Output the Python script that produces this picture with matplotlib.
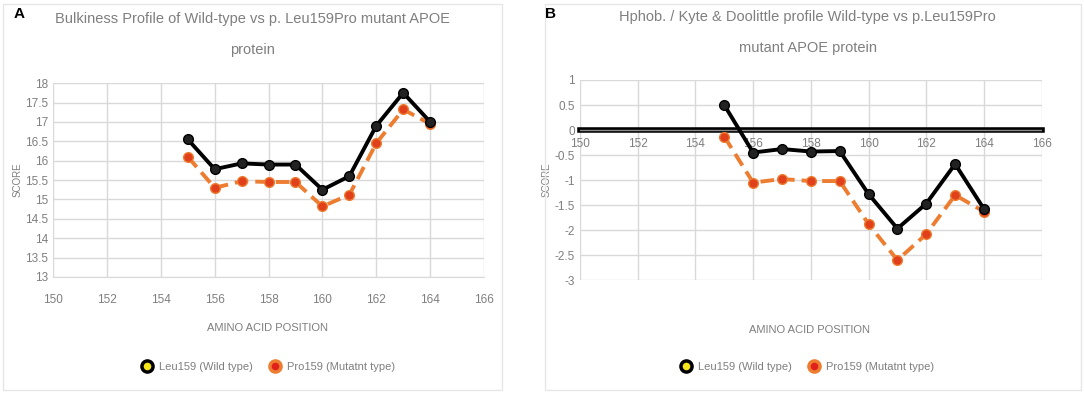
import matplotlib.pyplot as plt
from matplotlib.lines import Line2D
from matplotlib.patches import Rectangle

# amino acid positions
positions = [155, 156, 157, 158, 159, 160, 161, 162, 163, 164]

# A: bulkiness
bulk_wild = [16.55, 15.78, 15.93, 15.9, 15.9, 15.25, 15.6, 16.9, 17.75, 17.0]
bulk_mut = [16.1, 15.3, 15.47, 15.45, 15.45, 14.82, 15.12, 16.45, 17.32, 16.95]

# B: Kyte & Doolittle hydrophobicity
hyd_wild = [0.5, -0.45, -0.38, -0.43, -0.42, -1.28, -1.97, -1.47, -0.68, -1.58]
hyd_mut = [-0.13, -1.05, -0.98, -1.02, -1.02, -1.88, -2.6, -2.08, -1.3, -1.63]

x_ticks = [150, 152, 154, 156, 158, 160, 162, 164, 166]
legend_labels = ["Leu159 (Wild type)", "Pro159 (Mutatnt type)"]

GRAY = "#7f7f7f"
GRID = "#d9d9d9"
ORANGE = "#ED7D31"
plt.rcParams['font.family'] = ['Liberation Sans', 'DejaVu Sans']

fig = plt.figure(figsize=(10.84, 3.94), dpi=100)

# panel frames
for x0, w in [(0.003, 0.46), (0.503, 0.494)]:
    fig.patches.append(Rectangle((x0, 0.01), w, 0.98, transform=fig.transFigure,
                                 fill=False, edgecolor="#e6e6e6", lw=1))


def draw(ax, wild, mut):
    ax.plot(positions, wild, color="black", lw=2.8, marker="o", ms=7,
            mfc="#222222", mec="black", zorder=4)
    ax.plot(positions, mut, color=ORANGE, lw=2.8, ls=(0, (3.5, 1.8)), marker="o", ms=7,
            mfc="#e0401a", mec=ORANGE, zorder=3)
    ax.set_xlim(150, 166)
    ax.set_xticks(x_ticks)
    ax.grid(True, color=GRID, lw=1)
    ax.set_axisbelow(True)
    for s in ax.spines.values():
        s.set_visible(False)
    ax.tick_params(length=0, colors=GRAY, labelsize=8.5)
    ax.set_ylabel("SCORE", color=GRAY, fontsize=7, labelpad=2)


handles = [
    Line2D([], [], ls="", marker="o", ms=8, mfc="#f5e61a", mec="black", mew=2.5),
    Line2D([], [], ls="", marker="o", ms=8, mfc="#e0201a", mec=ORANGE, mew=2.5),
]

# panel A
axA = fig.add_axes([0.049, 0.297, 0.3975, 0.492])
draw(axA, bulk_wild, bulk_mut)
axA.set_ylim(13, 18)
axA.set_yticks([13, 13.5, 14, 14.5, 15, 15.5, 16, 16.5, 17, 17.5, 18])
axA.set_yticklabels(["13", "13.5", "14", "14.5", "15", "15.5", "16", "16.5", "17", "17.5", "18"])
axA.spines['bottom'].set_visible(True)
axA.spines['bottom'].set_color(GRID)
axA.tick_params(axis="x", pad=12)
fig.text(0.233, 0.97, "Bulkiness Profile of Wild-type vs p. Leu159Pro mutant APOE\nprotein",
         color=GRAY, fontsize=10.5, linespacing=2.6, ha="center", va="top")
fig.text(0.247, 0.168, "AMINO ACID POSITION", color=GRAY, fontsize=8, ha="center", va="center")
fig.legend(handles, legend_labels, loc="center", bbox_to_anchor=(0.245, 0.068),
           ncol=2, frameon=False, fontsize=8, labelcolor=GRAY,
           handletextpad=0.1, columnspacing=1.0)

# panel B
axB = fig.add_axes([0.535, 0.289, 0.426, 0.508])
draw(axB, hyd_wild, hyd_mut)
axB.set_ylim(-3, 1)
axB.set_yticks([-3, -2.5, -2, -1.5, -1, -0.5, 0, 0.5, 1])
axB.set_yticklabels(["-3", "-2.5", "-2", "-1.5", "-1", "-0.5", "0", "0.5", "1"])
axB.spines['bottom'].set_visible(True)
axB.spines['bottom'].set_position(("data", 0))
axB.spines['bottom'].set_linewidth(4)
axB.spines['bottom'].set_color("black")
axB.spines['bottom'].set_zorder(2)
axB.axhline(0, color="#888888", lw=1, zorder=2.5)
axB.tick_params(axis="x", pad=6)
fig.text(0.745, 0.975, "Hphob. / Kyte & Doolittle profile Wild-type vs p.Leu159Pro\nmutant APOE protein",
         color=GRAY, fontsize=10.5, linespacing=2.6, ha="center", va="top")
fig.text(0.747, 0.162, "AMINO ACID POSITION", color=GRAY, fontsize=8, ha="center", va="center")
fig.legend(handles, legend_labels, loc="center", bbox_to_anchor=(0.742, 0.068),
           ncol=2, frameon=False, fontsize=8, labelcolor=GRAY,
           handletextpad=0.1, columnspacing=1.0)

fig.text(0.013, 0.955, "A", fontsize=11, fontweight="bold")
fig.text(0.503, 0.955, "B", fontsize=11, fontweight="bold")

fig.savefig("out.png", dpi=100)
